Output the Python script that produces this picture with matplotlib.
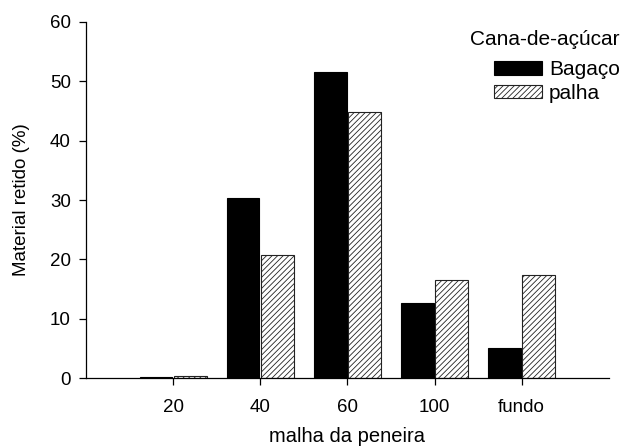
import matplotlib
matplotlib.use("Agg")
import matplotlib.pyplot as plt
import numpy as np

plt.rcParams['font.family'] = ['Liberation Sans', 'DejaVu Sans']
plt.rcParams['hatch.linewidth'] = 0.6
plt.rcParams['hatch.color'] = '#333333'

categories = ["20", "40", "60", "100", "fundo"]
bagaco = [0.2, 30.4, 51.6, 12.7, 5.1]
palha = [0.4, 20.8, 44.8, 16.5, 17.3]

fig = plt.figure(figsize=(6.25, 4.48), dpi=100)
ax = fig.add_axes([0.1376, 0.156, 0.8364, 0.795])

x = np.arange(1, len(categories) + 1)
w = 0.375
ax.bar(x - w / 2 - 0.01, bagaco, w, color='black', edgecolor='black', linewidth=0.8, label='Bagaço')
ax.bar(x + w / 2 + 0.01, palha, w, color='white', edgecolor='#222222', linewidth=0.8,
       hatch='//////', label='palha')

ax.set_xlim(0, 6)
ax.set_ylim(0, 60)
ax.set_xticks(x)
ax.set_xticklabels(categories)
ax.set_yticks(np.arange(0, 61, 10))
for s in ['top', 'right']:
    ax.spines[s].set_visible(False)
for s in ['left', 'bottom']:
    ax.spines[s].set_linewidth(0.9)
ax.tick_params(axis='both', labelsize=13.5, length=5, width=0.9, colors='black')
ax.tick_params(axis='x', pad=10)
ax.tick_params(axis='y', pad=6)
ax.set_xlabel('malha da peneira', fontsize=14.5, labelpad=8)
ax.set_ylabel('Material retido (%)', fontsize=13.5, labelpad=14)

leg = fig.legend(title='Cana-de-açúcar', loc='upper right', bbox_to_anchor=(0.995, 0.937),
                 frameon=False, fontsize=15, title_fontsize=15,
                 handlelength=2.3, handleheight=0.62, handletextpad=0.35, labelspacing=0.2,
                 borderaxespad=0.0, borderpad=0.1)
leg._legend_box.align = "right"
leg._legend_box.sep = 8

fig.savefig('out.png', dpi=100)
